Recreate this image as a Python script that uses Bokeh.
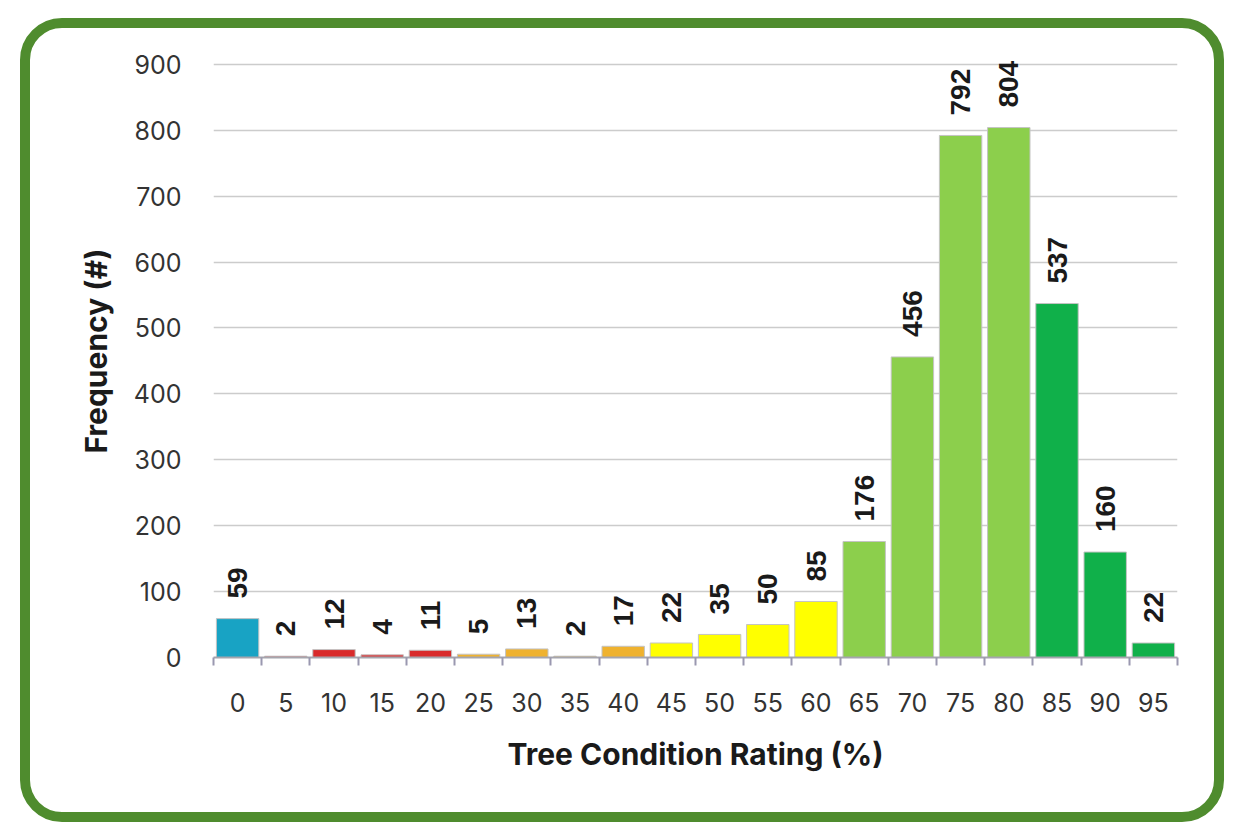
import math
from bokeh.plotting import figure
from bokeh.models import Range1d, FixedTicker, ColumnDataSource
from bokeh.core.properties import value
from bokeh.embed import file_html
from bokeh.resources import INLINE

# ---- data ----
ratings = [0, 5, 10, 15, 20, 25, 30, 35, 40, 45, 50, 55, 60, 65, 70, 75, 80, 85, 90, 95]
frequency = [59, 2, 12, 4, 11, 5, 13, 2, 17, 22, 35, 50, 85, 176, 456, 792, 804, 537, 160, 22]
condition_class = ["dead", "critical", "critical", "critical", "critical",
                   "poor", "poor", "poor", "poor",
                   "fair", "fair", "fair", "fair",
                   "good", "good", "good", "good",
                   "excellent", "excellent", "excellent"]
y_ticks = [0, 100, 200, 300, 400, 500, 600, 700, 800, 900]
x_title = "Tree Condition Rating (%)"
y_title = "Frequency (#)"

# ---- styles ----
class_colors = {
    "dead": "#18a3c4",
    "critical": "#d92a2b",
    "poor": "#efb22f",
    "fair": "#ffff00",
    "good": "#8ccf4c",
    "excellent": "#10b04a",
}
bar_colors = [class_colors[c] for c in condition_class]
step = ratings[1] - ratings[0]

source = ColumnDataSource(data=dict(
    x=ratings, top=frequency, color=bar_colors, label=[str(v) for v in frequency]
))

p = figure(width=1184, height=784,
           x_range=Range1d(ratings[0] - step / 2, ratings[-1] + step / 2),
           y_range=Range1d(0, 930),
           output_backend="svg", toolbar_location=None,
           min_border_left=183, min_border_right=57,
           min_border_top=16, min_border_bottom=175)
p.background_fill_color = "white"
p.border_fill_color = None
p.outline_line_color = None
# rounded green frame around the whole chart
p.styles = {
    "margin-left": "20px",
    "margin-top": "18px",
    "border": "10px solid #4f8c2e",
    "border-radius": "42px",
    "box-sizing": "content-box",
}

p.vbar(x="x", top="top", width=step * 0.88, bottom=0, fill_color="color",
       line_color="#c4c4c4", line_width=1, source=source)

p.text(x="x", y="top", text="label", source=source, angle=math.pi / 2,
       text_align="left", text_baseline="middle", x_offset=0, y_offset=-20,
       text_font=value("Liberation Sans"), text_font_style="bold",
       text_font_size="28px", text_color="#1a1a1a")

# x axis
p.xaxis.ticker = FixedTicker(ticks=ratings,
                             minor_ticks=[r - step / 2 for r in ratings] + [ratings[-1] + step / 2])
p.xaxis.major_tick_line_color = None
p.xaxis.major_tick_out = 0
p.xaxis.minor_tick_line_color = "#9a98b0"
p.xaxis.minor_tick_line_width = 2
p.xaxis.minor_tick_out = 8
p.xaxis.minor_tick_in = 0
p.xaxis.axis_line_color = "#a5a5ad"
p.xaxis.axis_line_width = 2
p.xaxis.major_label_standoff = 27
p.xaxis.major_label_text_font = "Inter"
p.xaxis.major_label_text_font_size = "25px"
p.xaxis.major_label_text_color = "#333333"
p.xaxis.axis_label = x_title
p.xaxis.axis_label_text_font = "Inter"
p.xaxis.axis_label_text_font_style = "bold"
p.xaxis.axis_label_text_font_size = "30px"
p.xaxis.axis_label_text_color = "#1a1a1a"
p.xaxis.axis_label_standoff = 21

# y axis
p.yaxis.ticker = FixedTicker(ticks=y_ticks)
p.yaxis.axis_line_color = None
p.yaxis.major_tick_line_color = None
p.yaxis.minor_tick_line_color = None
p.yaxis.major_tick_out = 0
p.yaxis.major_label_standoff = 32
p.yaxis.major_label_text_font = "Inter"
p.yaxis.major_label_text_font_size = "25px"
p.yaxis.major_label_text_color = "#333333"
p.yaxis.axis_label = y_title
p.yaxis.axis_label_text_font = "Inter"
p.yaxis.axis_label_text_font_style = "bold"
p.yaxis.axis_label_text_font_size = "30px"
p.yaxis.axis_label_text_color = "#1a1a1a"
p.yaxis.axis_label_standoff = 17

p.xgrid.visible = False
p.ygrid.ticker = FixedTicker(ticks=y_ticks)
p.ygrid.grid_line_color = "#cccccc"
p.ygrid.grid_line_width = 1.5

open("out.html", "w").write(file_html(p, INLINE))
